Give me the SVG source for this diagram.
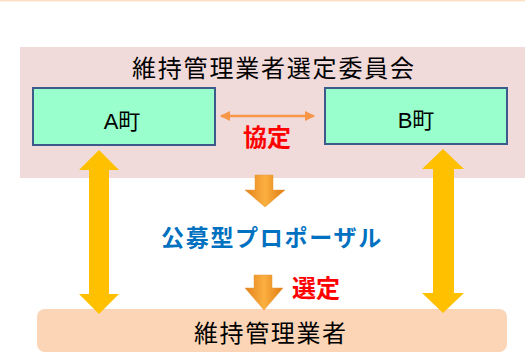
<svg xmlns="http://www.w3.org/2000/svg" width="525" height="352" viewBox="0 0 525 352">
<defs>
<style>
.t{font-family:"Liberation Sans","Noto Sans CJK JP",sans-serif;fill:#000}
.town{fill:#99ffcc;stroke:#3e5a8a;stroke-width:2}
.yel{fill:#ffc000}
.gdown{fill:url(#og);stroke:#e59a3c;stroke-width:0.5}
.red{fill:#ff0000;font-weight:bold;font-size:24px}
</style>
<linearGradient id="og" x1="0" y1="0" x2="1" y2="0">
<stop offset="0" stop-color="#e4801a"/>
<stop offset="0.5" stop-color="#fbb040"/>
<stop offset="1" stop-color="#e07a10"/>
</linearGradient>
<marker id="oa" viewBox="0 0 10 10" refX="9" refY="5" markerWidth="4" markerHeight="4" orient="auto-start-reverse">
<path d="M0,0 L10,5 L0,10 z" fill="#f79646"/>
</marker>
</defs>
<rect x="0" y="0" width="525" height="1.5" fill="#fde0c8"/>
<g id="committee">
<rect x="20" y="47" width="505" height="131" fill="#f0dada"/>
<text class="t" x="132" y="77" font-size="24" letter-spacing="1.8">維持管理業者選定委員会</text>
</g>
<g id="townA">
<rect class="town" x="33" y="88" width="182" height="57"/>
<text class="t" x="122" y="129" font-size="22" text-anchor="middle">A町</text>
</g>
<g id="townB">
<rect class="town" x="325" y="88" width="182" height="56"/>
<text class="t" x="416" y="128" font-size="22" text-anchor="middle">B町</text>
</g>
<g id="contractor">
<rect x="37" y="309" width="470" height="43" rx="8" fill="#fbd5b5"/>
<text class="t" x="194" y="342" font-size="24" letter-spacing="1.6">維持管理業者</text>
</g>
<g id="connectors">
<line x1="221" y1="116" x2="314" y2="116" stroke="#f79646" stroke-width="2.5" marker-start="url(#oa)" marker-end="url(#oa)"/>
<text class="t red" x="243" y="146">協定</text>
<path class="yel" d="M99,150 L119,170 L109,170 L109,294 L119,294 L99,314 L79,294 L89,294 L89,170 L79,170 Z"/>
<path class="yel" d="M443,149 L464,169 L454,169 L454,293 L464,293 L443,313 L422,293 L433,293 L433,169 L422,169 Z"/>
<path class="gdown" d="M255,175 L273,175 L273,190 L285,190 L265,207 L245,190 L255,190 Z"/>
<text class="t" x="161" y="246" font-size="23" font-weight="bold" letter-spacing="1.7" style="fill:#0070c0">公募型プロポーザル</text>
<path class="gdown" d="M254,275 L272,275 L272,288 L283,288 L264,310 L245,288 L254,288 Z"/>
<text class="t red" x="292" y="297">選定</text>
</g>
</svg>
